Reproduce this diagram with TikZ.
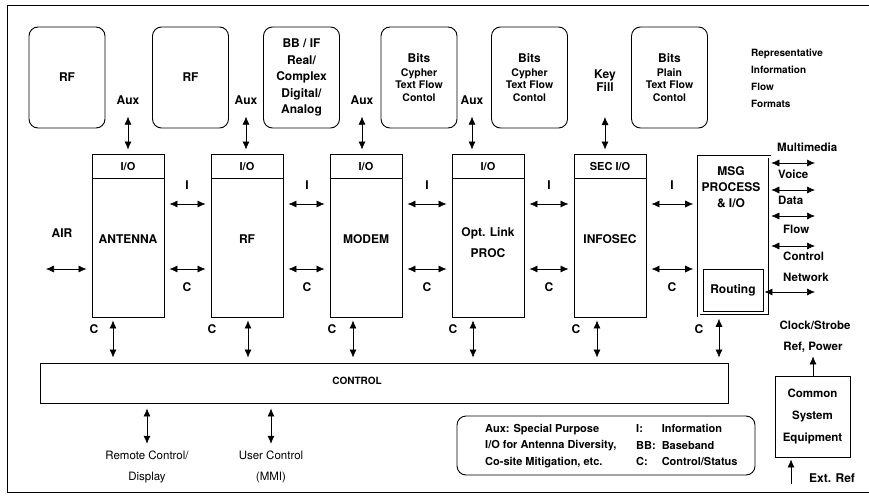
\documentclass[tikz,border=0pt]{standalone}
\usepackage{fontspec}
\setmainfont{TeX Gyre Heros}
\usetikzlibrary{arrows.meta}

\begin{document}
\begin{tikzpicture}[x=1pt,y=-1pt,
  lw/.style={line width=0.9pt},
  tbox/.style={draw,lw,rounded corners=9pt,minimum width=76pt,minimum height=101pt,inner sep=1pt,align=center,font=\fontsize{12}{16.5}\selectfont\bfseries},
  iobox/.style={draw,lw,minimum width=72pt,minimum height=24pt,inner sep=0pt,font=\fontsize{11}{13}\selectfont\bfseries},
  blk/.style={draw,lw,minimum width=72pt,minimum height=163pt,inner sep=0pt},
  lbl/.style={inner sep=1pt,align=center,font=\fontsize{12}{14}\selectfont\bfseries},
  txt/.style={inner sep=1pt,align=center,font=\fontsize{11.5}{21}\selectfont},
  sml/.style={inner sep=1pt,align=left,font=\fontsize{11}{16.5}\selectfont\bfseries},
  arr/.style={{Latex[length=8pt,width=7pt]}-{Latex[length=8pt,width=7pt]},line width=0.6pt,shorten <=4pt,shorten >=4pt},
  up/.style={-{Latex[length=8pt,width=7pt]},line width=0.6pt}]
\useasboundingbox (0,0) rectangle (869,503);
\draw[line width=0.8pt] (869,5) -- (7,5) -- (7,492) -- (869,492);

\node[tbox] (t1) at (67,77.5) {RF};
\node[tbox] (t2) at (190.5,77.5) {RF};
\node[tbox] (t3) at (301.5,77.5) {BB / IF\\Real/\\Complex\\Digital/\\Analog};
\node[tbox,font=\fontsize{10.5}{12.5}\selectfont\bfseries] (t4) at (419,77.5) {{\fontsize{12}{14}\selectfont Bits}\\[1.5pt]Cypher\\Text Flow\\Contol};
\node[tbox,font=\fontsize{10.5}{12.5}\selectfont\bfseries] (t5) at (529.5,77.5) {{\fontsize{12}{14}\selectfont Bits}\\[1.5pt]Cypher\\Text Flow\\Contol};
\node[tbox,font=\fontsize{10.5}{12.5}\selectfont\bfseries] (t6) at (669.5,77.5) {{\fontsize{12}{14}\selectfont Bits}\\[1.5pt]Plain\\Text Flow\\Contol};
\node[sml,anchor=west,font=\fontsize{10}{17}\selectfont\bfseries] (rep) at (750,78) {Representative\\Information\\Flow\\Formats};

\node[blk] (b1) at (128,235.5) {};
\node[iobox] (io1) at (128,166) {I/O};
\node[lbl] (l1) at (128,239) {ANTENNA};
\node[blk] (b2) at (247,235.5) {};
\node[iobox] (io2) at (247,166) {I/O};
\node[lbl] (l2) at (247,239) {RF};
\node[blk] (b3) at (366,235.5) {};
\node[iobox] (io3) at (366,166) {I/O};
\node[lbl] (l3) at (366,239) {MODEM};
\node[blk] (b4) at (488,235.5) {};
\node[iobox] (io4) at (488,166) {I/O};
\node[lbl,font=\fontsize{12}{21}\selectfont\bfseries] (l4) at (488,242.5) {Opt. Link\\PROC};
\node[blk] (b5) at (610,235.5) {};
\node[iobox] (io5) at (610,166) {SEC I/O};
\node[lbl] (l5) at (610,239) {INFOSEC};
\node[draw,double,double distance=2pt,line width=0.6pt,minimum width=71pt,minimum height=159pt,inner sep=0pt] (b6) at (734,236) {};
\node[lbl,font=\fontsize{12}{16}\selectfont\bfseries] (m6) at (731,187) {MSG\\PROCESS\\\& I/O};
\node[lbl,draw,lw,minimum width=60pt,minimum height=42pt] (rt) at (733,290) {Routing};

\node[lbl] (a1) at (128,100) {Aux};
\node[lbl] (a2) at (246,100) {Aux};
\node[lbl] (a3) at (362,100) {Aux};
\node[lbl] (a4) at (472,100) {Aux};
\node[lbl,font=\fontsize{12}{13}\selectfont\bfseries] (kf) at (605,81) {Key\\Fill};
\draw[arr,shorten <=11pt] (a1) -- (a1 |- io1.north);
\draw[arr,shorten <=11pt] (a2) -- (a2 |- io2.north);
\draw[arr,shorten <=11pt] (a3) -- (a3 |- io3.north);
\draw[arr,shorten <=11pt] (a4) -- (a4 |- io4.north);
\draw[arr,shorten <=24pt] (kf) -- (kf |- io5.north);

\node[lbl] (air) at (62,233) {AIR};
\coordinate (airend) at (46,269);
\draw[arr,shorten <=0pt,shorten >=5pt] (airend) -- (b1.west |- airend);

\draw[arr,shorten <=5pt,shorten >=5pt] (b1.east |- 0,204) -- (b2.west |- 0,204);
\draw[arr,shorten <=5pt,shorten >=5pt] (b1.east |- 0,269) -- (b2.west |- 0,269);
\draw[arr,shorten <=5pt,shorten >=5pt] (b2.east |- 0,204) -- (b3.west |- 0,204);
\draw[arr,shorten <=5pt,shorten >=5pt] (b2.east |- 0,269) -- (b3.west |- 0,269);
\draw[arr,shorten <=5pt,shorten >=5pt] (b3.east |- 0,204) -- (b4.west |- 0,204);
\draw[arr,shorten <=5pt,shorten >=5pt] (b3.east |- 0,269) -- (b4.west |- 0,269);
\draw[arr,shorten <=5pt,shorten >=5pt] (b4.east |- 0,204) -- (b5.west |- 0,204);
\draw[arr,shorten <=5pt,shorten >=5pt] (b4.east |- 0,269) -- (b5.west |- 0,269);
\draw[arr,shorten <=5pt,shorten >=5pt] (b5.east |- 0,204) -- (b6.west |- 0,204);
\draw[arr,shorten <=5pt,shorten >=5pt] (b5.east |- 0,269) -- (b6.west |- 0,269);
\node[lbl] (i1) at (187,185) {I};
\node[lbl] (c1) at (187,287) {C};
\node[lbl] (i2) at (307,185) {I};
\node[lbl] (c2) at (307,287) {C};
\node[lbl] (i3) at (427,185) {I};
\node[lbl] (c3) at (427,287) {C};
\node[lbl] (i4) at (549,185) {I};
\node[lbl] (c4) at (549,287) {C};
\node[lbl] (i5) at (672,185) {I};
\node[lbl] (c5) at (672,287) {C};

\coordinate (o1) at (815,163);
\coordinate (o2) at (815,190);
\coordinate (o3) at (815,216);
\coordinate (o4) at (815,246);
\coordinate (o5) at (815,292);
\draw[arr,shorten <=1.5pt,shorten >=0pt] (b6.east |- o1) -- (o1);
\draw[arr,shorten <=1.5pt,shorten >=0pt] (b6.east |- o2) -- (o2);
\draw[arr,shorten <=1.5pt,shorten >=0pt] (b6.east |- o3) -- (o3);
\draw[arr,shorten <=1.5pt,shorten >=0pt] (b6.east |- o4) -- (o4);
\draw[arr,shorten <=1pt,shorten >=0pt] (rt.east |- o5) -- (o5);
\node[lbl,anchor=west,font=\fontsize{11.5}{14}\selectfont\bfseries] (mm) at (776,147) {Multimedia};
\node[lbl,anchor=west,font=\fontsize{11.5}{14}\selectfont\bfseries] (vo) at (777,174) {Voice};
\node[lbl,anchor=west,font=\fontsize{11.5}{14}\selectfont\bfseries] (da) at (777,200) {Data};
\node[lbl,anchor=west,font=\fontsize{11.5}{14}\selectfont\bfseries] (fl) at (782,229) {Flow};
\node[lbl,anchor=west,font=\fontsize{11.5}{14}\selectfont\bfseries] (co) at (782,256) {Control};
\node[lbl,anchor=west,font=\fontsize{11.5}{14}\selectfont\bfseries] (nw) at (782,277) {Network};

\node[draw,lw,minimum width=688pt,minimum height=40pt] (ctl) at (384,383) {};
\node[lbl,font=\fontsize{10}{12}\selectfont\bfseries] (ct) at (357,381) {CONTROL};
\node[lbl] (cb1) at (94,329) {C};
\node[lbl] (cb2) at (212,329) {C};
\node[lbl] (cb3) at (332,329) {C};
\node[lbl] (cb4) at (453,329) {C};
\node[lbl] (cb5) at (576,329) {C};
\node[lbl] (cb6) at (699,329) {C};
\draw[arr,shorten <=3pt,shorten >=5pt] (b1.south -| 113,0) -- (ctl.north -| 113,0);
\draw[arr,shorten <=3pt,shorten >=5pt] (b2.south -| 248,0) -- (ctl.north -| 248,0);
\draw[arr,shorten <=3pt,shorten >=5pt] (b3.south -| 353,0) -- (ctl.north -| 353,0);
\draw[arr,shorten <=3pt,shorten >=5pt] (b4.south -| 473,0) -- (ctl.north -| 473,0);
\draw[arr,shorten <=3pt,shorten >=5pt] (b5.south -| 597,0) -- (ctl.north -| 597,0);
\draw[arr,shorten <=3pt,shorten >=5pt] (b6.south -| 719,0) -- (ctl.north -| 719,0);

\node[txt] (rc) at (147,467) {Remote Control/\\Display};
\node[txt] (uc) at (271,467) {User Control\\(MMI)};
\draw[arr,shorten <=5pt,shorten >=6pt] (ctl.south -| rc) -- (rc);
\draw[arr,shorten <=5pt,shorten >=6pt] (ctl.south -| uc) -- (uc);

\node[draw,lw,rounded corners=9pt,minimum width=298pt,minimum height=59pt] (lg) at (606,445.5) {};
\node[sml,anchor=west] (lg1) at (484,446) {Aux: Special Purpose\\I/O for Antenna Diversity,\\Co-site Mitigation, etc.};
\node[sml,anchor=west] (lg2) at (635,446) {\begin{tabular}{@{}l@{\hspace{6pt}}l@{}}I: & Information\\BB: & Baseband\\C: & Control/Status\end{tabular}};

\node[lbl,draw,lw,minimum width=75pt,minimum height=81pt,font=\fontsize{11.5}{22}\selectfont\bfseries] (cse) at (812.5,416.5) {Common\\System\\Equipment};
\node[lbl,font=\fontsize{11.5}{14}\selectfont\bfseries] (ck) at (815,325) {Clock/Strobe};
\node[lbl,font=\fontsize{11.5}{14}\selectfont\bfseries] (rp) at (813,347) {Ref, Power};
\draw[up,shorten >=3pt] (cse.north -| rp) -- (rp);
\coordinate (ext) at (791,484);
\draw[up,shorten >=2pt] (ext) -- (ext |- cse.south);
\node[lbl,anchor=west] (er) at (808,478) {Ext. Ref};
\end{tikzpicture}
\end{document}
